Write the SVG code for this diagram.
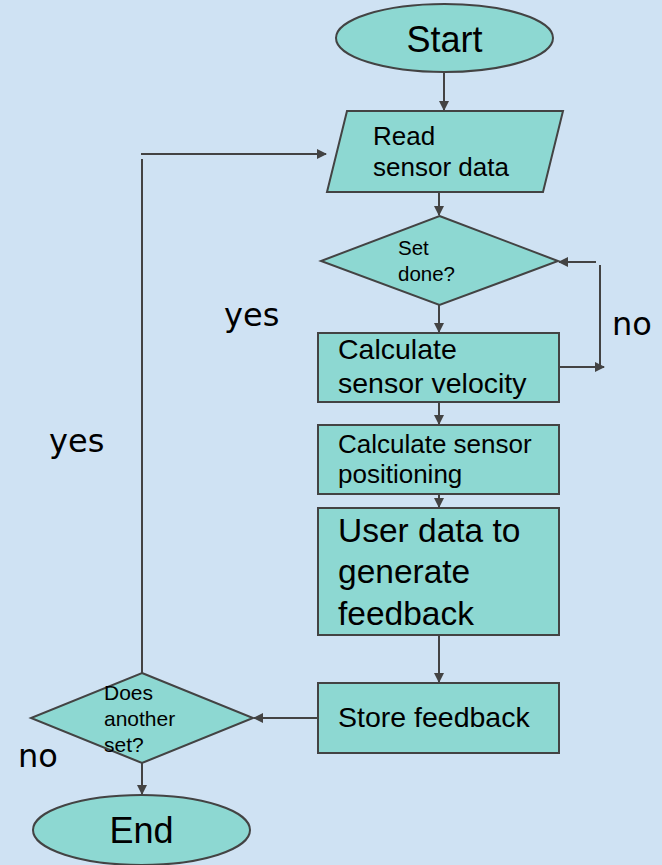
<svg xmlns="http://www.w3.org/2000/svg" width="662" height="865" viewBox="0 0 662 865">
<defs>
<marker id="ah" viewBox="0 0 10 10" refX="9" refY="5" markerWidth="10" markerHeight="10" markerUnits="userSpaceOnUse" orient="auto">
<path d="M0,0 L10,5 L0,10 z" fill="#434343"/>
</marker>
<style>
.shape{fill:#8dd8d2;stroke:#434343;stroke-width:2}
.t{font-family:"Liberation Sans",Arial,sans-serif;fill:#000}
.lbl{font-family:"DejaVu Sans",sans-serif;font-size:32px;fill:#000}
.c{fill:none;stroke:#434343;stroke-width:2}
.ca{fill:none;stroke:#434343;stroke-width:2;marker-end:url(#ah)}
</style>
</defs>
<rect width="662" height="865" fill="#cfe2f3"/>
<g id="connectors">
<line class="ca" x1="444" y1="72" x2="444" y2="110"/>
<line class="ca" x1="439" y1="192" x2="439" y2="215"/>
<line class="ca" x1="439" y1="305" x2="439" y2="332"/>
<line class="ca" x1="559" y1="367" x2="604" y2="367"/>
<line class="c" x1="600" y1="265" x2="600" y2="366"/>
<line class="ca" x1="596" y1="262" x2="559" y2="262"/>
<line class="ca" x1="439" y1="402" x2="439" y2="424"/>
<line class="ca" x1="439" y1="487" x2="439" y2="507"/>
<line class="ca" x1="439" y1="635" x2="439" y2="682"/>
<line class="ca" x1="318" y1="718" x2="254" y2="718"/>
<line class="c" x1="142" y1="673" x2="142" y2="159"/>
<line class="ca" x1="141" y1="154" x2="326" y2="154"/>
<line class="ca" x1="142" y1="763" x2="142" y2="794"/>
</g>
<g id="start">
<ellipse class="shape" cx="444.5" cy="38" rx="108.5" ry="34"/>
<text class="t" x="444.5" y="52" font-size="36" text-anchor="middle">Start</text>
</g>
<g id="read">
<polygon class="shape" points="347,111 563,111 543,192 327,192"/>
<text class="t" x="373" y="145" font-size="26">Read</text>
<text class="t" x="373" y="176" font-size="26">sensor data</text>
</g>
<g id="setdone">
<polygon class="shape" points="439.5,216 558,261 439.5,305 321,261"/>
<text class="t" x="398" y="255" font-size="20.5">Set</text>
<text class="t" x="398" y="281" font-size="20.5">done?</text>
</g>
<g id="velocity">
<rect class="shape" x="318" y="333" width="241" height="69"/>
<text class="t" x="338" y="359" font-size="28.5">Calculate</text>
<text class="t" x="338" y="393" font-size="28.5">sensor velocity</text>
</g>
<g id="positioning">
<rect class="shape" x="318" y="425" width="241" height="69"/>
<text class="t" x="338" y="453" font-size="26">Calculate sensor</text>
<text class="t" x="338" y="483" font-size="26">positioning</text>
</g>
<g id="userdata">
<rect class="shape" x="318" y="508" width="241" height="127"/>
<text class="t" x="338" y="542" font-size="33.5">User data to</text>
<text class="t" x="338" y="583" font-size="33.5">generate</text>
<text class="t" x="338" y="625" font-size="33.5">feedback</text>
</g>
<g id="store">
<rect class="shape" x="318" y="683" width="241" height="70"/>
<text class="t" x="338" y="727" font-size="28.5">Store feedback</text>
</g>
<g id="another">
<polygon class="shape" points="142,673 253,718 142,763 31,718"/>
<text class="t" x="104" y="700" font-size="21">Does</text>
<text class="t" x="104" y="726" font-size="21">another</text>
<text class="t" x="104" y="752" font-size="21">set?</text>
</g>
<g id="end">
<ellipse class="shape" cx="141.5" cy="830" rx="108.5" ry="35"/>
<text class="t" x="141.5" y="843" font-size="36" text-anchor="middle">End</text>
</g>
<g id="labels">
<text class="lbl" x="224" y="326">yes</text>
<text class="lbl" x="49" y="452">yes</text>
<text class="lbl" x="612" y="335">no</text>
<text class="lbl" x="18" y="767">no</text>
</g>
</svg>
